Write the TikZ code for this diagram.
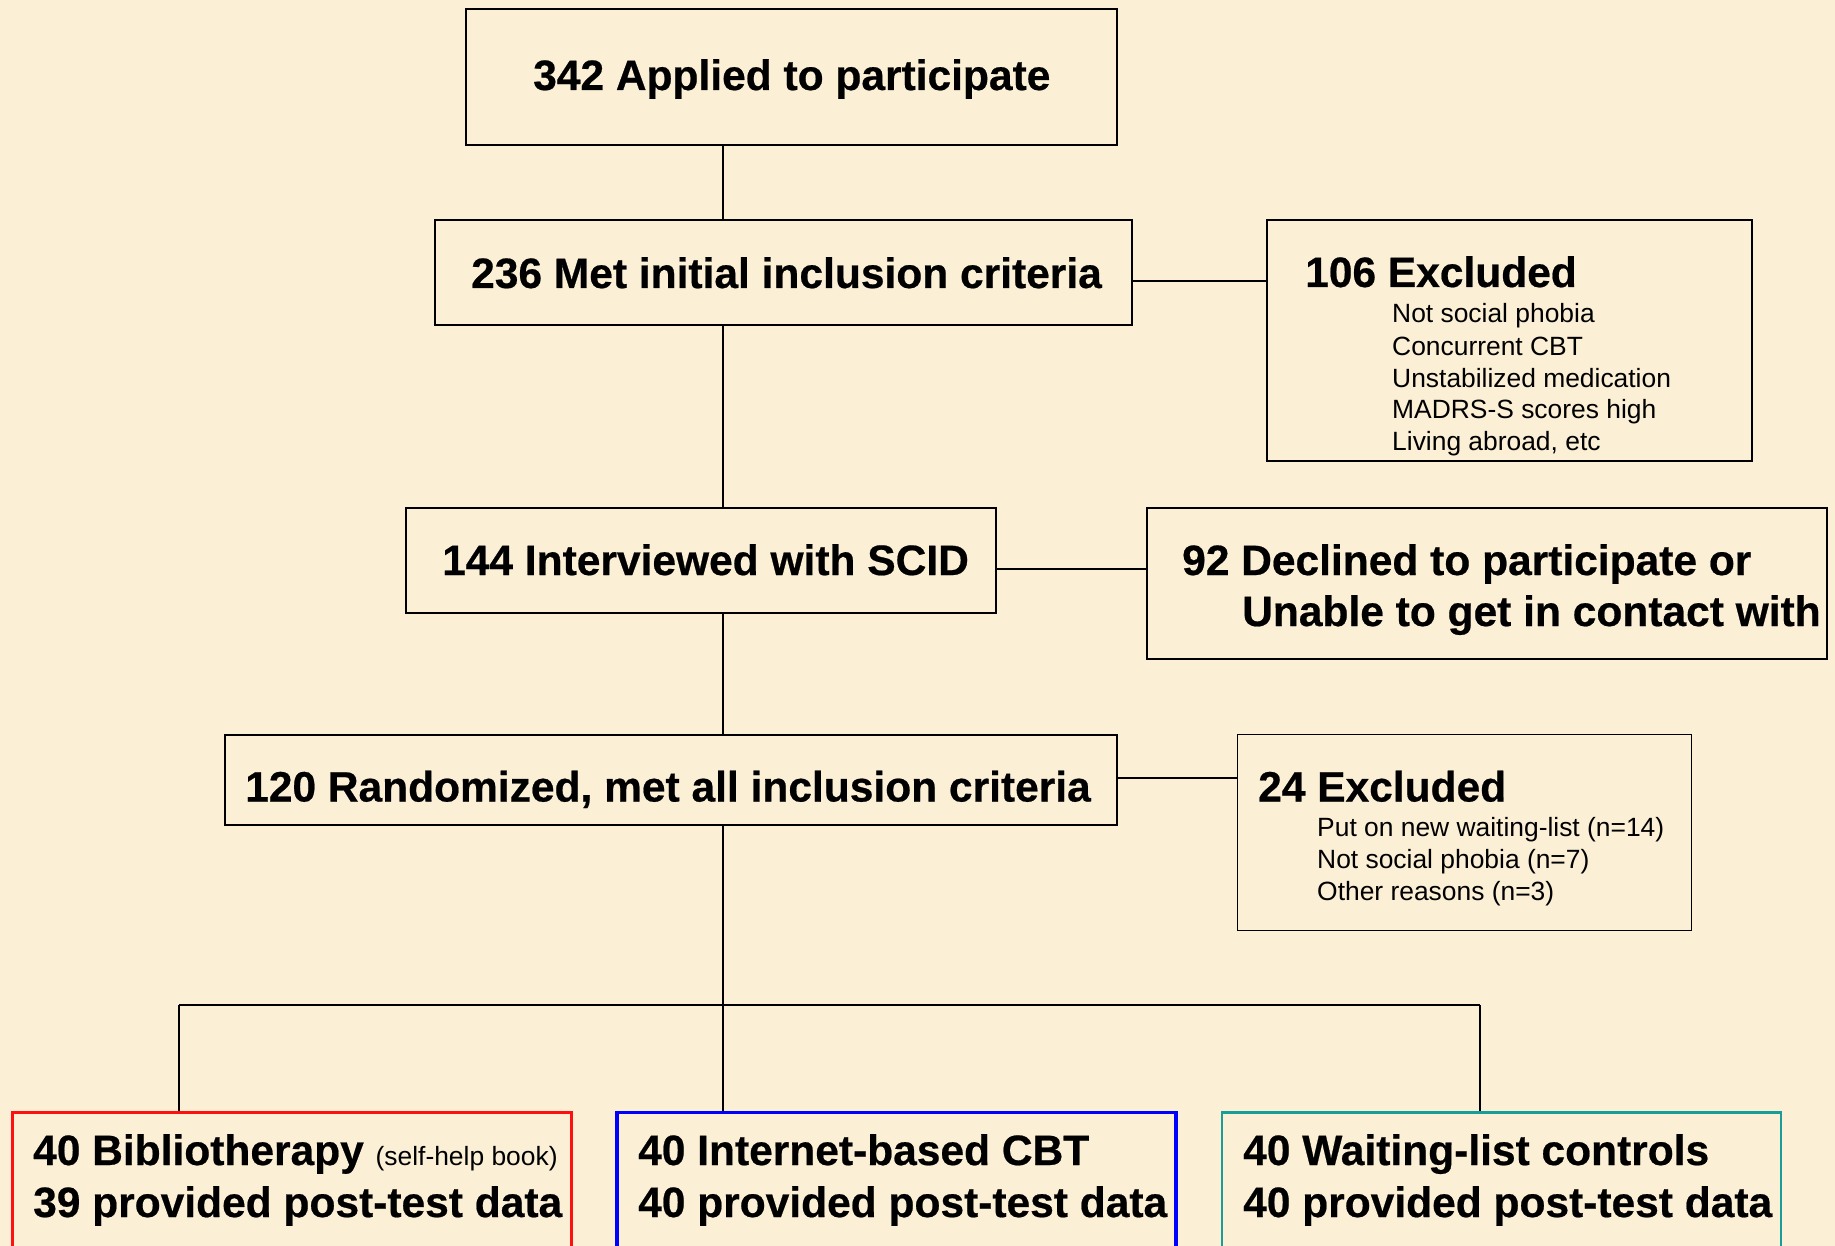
\documentclass[tikz,border=0pt]{standalone}
\usepackage{fontspec}
\setmainfont{Liberation Sans}[BoldFeatures={FakeBold=0.5}]
\definecolor{bg}{HTML}{FBEFD5}
\definecolor{bred}{HTML}{FF1010}
\definecolor{bblue}{HTML}{0000FF}
\definecolor{bteal}{HTML}{189E99}
\begin{document}
\begin{tikzpicture}[x=1pt,y=-1pt,
  box/.style={draw=black, line width=1.6pt, rectangle, inner sep=0pt},
  cbox/.style={line width=2.6pt, rectangle, inner sep=0pt},
  big/.style={font=\fontsize{42.5}{50}\selectfont\bfseries, inner sep=0pt, anchor=base west},
  small/.style={font=\fontsize{26.4}{32}\selectfont, inner sep=0pt, anchor=base west},
  link/.style={draw=black, line width=1.6pt}]
\fill[bg] (0,0) rectangle (1835,1246);
\useasboundingbox (0,0) rectangle (1835,1246);
\clip (0,0) rectangle (1835,1246);
\coordinate (trunk) at (723,0);
% boxes
\node[box, minimum width=651pt, minimum height=136pt] (b1) at (791.5,77) {};
\node[box, minimum width=697pt, minimum height=105pt] (b2) at (783.5,272.5) {};
\node[box, minimum width=485pt, minimum height=241pt] (x1) at (1509.5,340.5) {};
\node[box, minimum width=590pt, minimum height=105pt] (b3) at (701,560.5) {};
\node[box, minimum width=680pt, minimum height=151pt] (x2) at (1487,583.5) {};
\node[box, minimum width=892pt, minimum height=90pt] (b4) at (671,780) {};
\node[box, minimum width=454pt, minimum height=196pt] (x3) at (1464.5,832.5) {};
\node[cbox, draw=bred, line width=2.4pt, minimum width=559pt, minimum height=160pt] (g1) at (292,1192.5) {};
\node[cbox, draw=bblue, line width=3.4pt, minimum width=559pt, minimum height=160pt] (g2) at (896.5,1192.5) {};
\node[cbox, draw=bteal, line width=2.6pt, minimum width=559pt, minimum height=160pt] (g3) at (1501.5,1192.5) {};
% texts
\node[big] (t1) at (533,90) {342 Applied to participate};
\node[big] (t2) at (471,288) {236 Met initial inclusion criteria};
\node[big] (t3) at (1305,287) {106 Excluded};
\node[small] (s1) at (1392,323) {Not social phobia};
\node[small] (s2) at (1392,355) {Concurrent CBT};
\node[small] (s3) at (1392,387) {Unstabilized medication};
\node[small] (s4) at (1392,418.5) {MADRS-S scores high};
\node[small] (s5) at (1392,450) {Living abroad, etc};
\node[big] (t4) at (442,575) {144 Interviewed with SCID};
\node[big] (t5) at (1182,575) {92 Declined to participate or};
\node[big] (t5b) at (1242,626) {Unable to get in contact with};
\node[big] (t6) at (245,801.5) {120 Randomized, met all inclusion criteria};
\node[big] (t7) at (1258,801.5) {24 Excluded};
\node[small] (r1) at (1317,836.5) {Put on new waiting-list (n=14)};
\node[small] (r2) at (1317,868) {Not social phobia (n=7)};
\node[small] (r3) at (1317,900) {Other reasons (n=3)};
\node[big] (u1) at (33,1165) {40 Bibliotherapy {\fontsize{26.4}{30}\selectfont\mdseries (self-help book)}};
\node[big] (u2) at (33,1217) {39 provided post-test data};
\node[big] (v1) at (638,1165) {40 Internet-based CBT};
\node[big] (v2) at (638,1217) {40 provided post-test data};
\node[big] (w1) at (1243,1165) {40 Waiting-list controls};
\node[big] (w2) at (1243,1217) {40 provided post-test data};
% connectors
\coordinate (split) at (723,1005);
\coordinate (sl) at (179,1005);
\coordinate (sr) at (1480,1005);
\path[link] (b1.south -| trunk) -- (b2.north -| trunk);
\path[link] (b2.south -| trunk) -- (b3.north -| trunk);
\path[link] (b3.south -| trunk) -- (b4.north -| trunk);
\path[link] (b4.south -| trunk) -- (split);
\path[link] (split) -- (g2.north -| trunk);
\path[link] (sl) -- (sr);
\path[link] (sl) -- (g1.north -| sl);
\path[link] (sr) -- (g3.north -| sr);
\path[link] (b2.east |- 0,281) -- (x1.west |- 0,281);
\path[link] (b3.east |- 0,569) -- (x2.west |- 0,569);
\path[link] (b4.east |- 0,778) -- (x3.west |- 0,778);
\end{tikzpicture}
\end{document}
